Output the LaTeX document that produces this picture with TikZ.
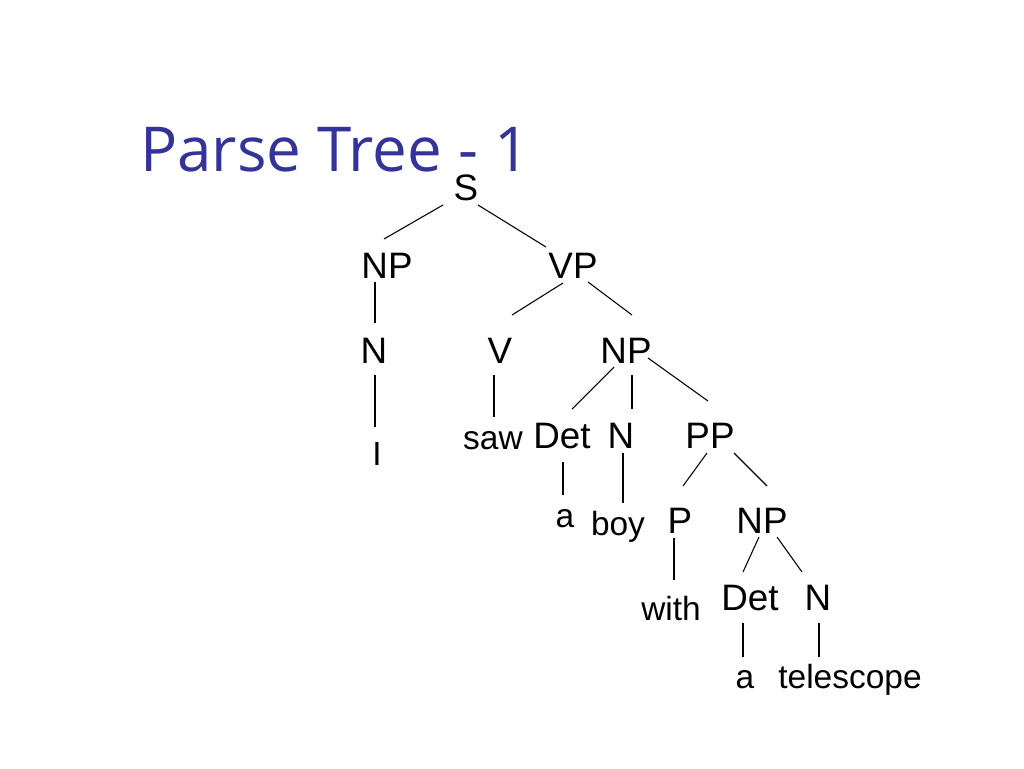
\documentclass[tikz,border=0pt]{standalone}
\usepackage{fontspec}
\setmainfont{Liberation Sans}
\newfontfamily\titlefont{Open Sans}
\usepackage{tikz}
\usetikzlibrary{positioning,calc}
\definecolor{titleblue}{HTML}{333399}

\begin{document}
\begin{tikzpicture}[
    x=0.75pt, y=-0.75pt,
    catnode/.style={anchor=base, inner sep=0pt, font=\fontsize{27.6}{30}\selectfont},
    wordnode/.style={anchor=base, inner sep=0pt, font=\fontsize{25.1}{28}\selectfont},
    branch/.style={line width=0.8pt}
]
    \useasboundingbox[fill=white] (0,0) rectangle (1024,768);

    \node[anchor=base west, inner sep=0pt, text=titleblue, font=\titlefont\fontsize{46.4}{50}\selectfont] (title) at (140,171) {Parse Tree - 1};

    % categories
    \node[catnode] (s) at (466,200) {S};
    \node[catnode] (np1) at (387,278) {NP};
    \node[catnode] (vp) at (573,278) {VP};
    \node[catnode] (n1) at (374,363) {N};
    \node[catnode] (v) at (500,363) {V};
    \node[catnode] (np2) at (626,363) {NP};
    \node[catnode] (det1) at (562,448) {Det};
    \node[catnode] (n2) at (621,448) {N};
    \node[catnode] (pp) at (710,448) {PP};
    \node[catnode] (p) at (680,533) {P};
    \node[catnode] (np3) at (762,533) {NP};
    \node[catnode] (det2) at (750,610) {Det};
    \node[catnode] (n3) at (818,610) {N};

    % words
    \node[wordnode] (wI) at (377,465) {I};
    \node[wordnode] (wsaw) at (493,449) {saw};
    \node[wordnode] (wa1) at (565,527) {a};
    \node[wordnode] (wboy) at (618,535) {boy};
    \node[wordnode] (wwith) at (671,620) {with};
    \node[wordnode] (wa2) at (745,688) {a};
    \node[wordnode] (wtel) at (850,688) {telescope};

    % branches
    \foreach \a/\ax/\ay/\b/\bx/\by in {s/-23/5/np1/-3/-39, s/12/5/vp/-27/-31,
        np1/-12/4/n1/1/-40, vp/-10/5/v/12/-48, vp/15/4/np2/6/-48,
        n1/1/12/wI/-2/-38, v/-6/12/wsaw/1/-32,
        np2/-12/4/det1/10/-39, np2/6/12/n2/11/-39, np2/22/-5/pp/-2/-47,
        det1/1/14/wa1/-2/-32, n2/2/5/wboy/5/-32,
        pp/-3/5/p/3/-47, pp/24/5/np3/5/-47, p/-6/5/wwith/3/-40,
        np3/-3/4/det2/-7/-38, np3/15/4/n3/-16/-38,
        det2/-7/13/wa2/-2/-31, n3/1/13/wtel/-31/-31}
        \draw[branch] ([shift={(\ax,\ay)}]\a.base) -- ([shift={(\bx,\by)}]\b.base);
\end{tikzpicture}
\end{document}
